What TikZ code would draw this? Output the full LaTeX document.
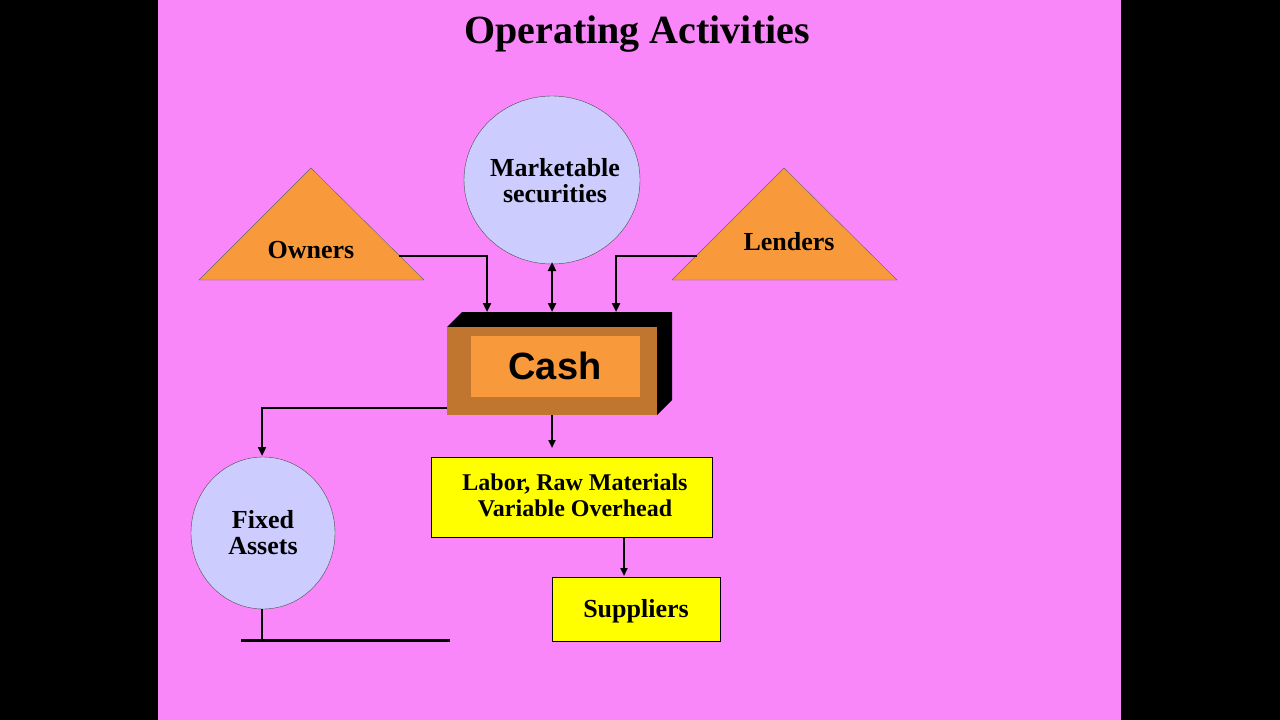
\documentclass[tikz,border=0pt]{standalone}
\usepackage{fontspec}
\setmainfont{Liberation Serif}
\newfontfamily\sansf{Liberation Sans}
\usetikzlibrary{arrows.meta,shapes.geometric}
\definecolor{bg}{HTML}{F987FA}
\definecolor{org}{HTML}{F89A3C}
\definecolor{lav}{HTML}{CCCCFF}
\definecolor{brn}{HTML}{C0762E}
\definecolor{yel}{HTML}{FFFF00}
\tikzset{conn/.style={line width=2.5pt,-{Triangle[length=9pt,width=8pt]}},
lbl/.style={font=\bfseries\fontsize{26}{30}\selectfont,align=center},
circ/.style={draw=black!70,fill=lav,ellipse},
ybox/.style={draw=black,fill=yel,line width=0.6pt}}
\begin{document}
\begin{tikzpicture}[x=1pt,y=-1pt]
\useasboundingbox (0,0) rectangle (1280,720);
\fill[black] (0,0) rectangle (1280,720);
\fill[bg] (158,0) rectangle (1121,720);
\node[font=\bfseries\fontsize{40}{46}\selectfont] (title) at (637,34) {Operating Activities};
% triangles
\draw[fill=org,draw=black!60] (199,280) -- (424,280) -- (311,168) -- cycle;
\node[lbl] (own) at (311,250) {Owners};
\draw[fill=org,draw=black!60] (672,280) -- (897,280) -- (784,168) -- cycle;
\node[lbl] (lend) at (789,242) {Lenders};
% circles
\node[circ,minimum width=176pt,minimum height=168pt,inner sep=0pt] (ms) at (552,180) {};
\node[lbl] at (555,181) {Marketable\\[-4pt]securities};
\node[circ,minimum width=144pt,minimum height=152pt,inner sep=0pt] (fa) at (263,533) {};
\node[lbl] at (263,533) {Fixed\\[-4pt]Assets};
% cash box
\fill[black] (447,327) -- (462,312) -- (672,312) -- (672,400) -- (657,415) -- (657,327) -- cycle;
\fill[brn] (447,327) rectangle (657,415);
\fill[org] (471,336) rectangle (640,397);
\node[font=\sansf\bfseries\fontsize{38}{44}\selectfont] (cash) at (555,366) {Cash};
% boxes
\draw[ybox] (431,457) rectangle (712,537);
\node[lbl,font=\bfseries\fontsize{24}{28}\selectfont] (labor) at (575,495) {Labor, Raw Materials\\[-2pt]Variable Overhead};
\draw[ybox] (552,577) rectangle (720,641);
\node[lbl] (sup) at (636,611) {Suppliers};
% connectors
\coordinate (o1) at (399,256); \coordinate (o2) at (487,256); \coordinate (o3) at (487,312);
\draw[conn] (o1) -- (o2) -- (o3);
\coordinate (l1) at (697,256); \coordinate (l2) at (616,256); \coordinate (l3) at (616,312);
\draw[conn] (l1) -- (l2) -- (l3);
\coordinate (m1) at (552,262); \coordinate (m2) at (552,312);
\draw[conn,{Triangle[length=9pt,width=8pt]}-{Triangle[length=9pt,width=8pt]}] (m1) -- (m2);
\coordinate (c1) at (447,408); \coordinate (c2) at (262,408); \coordinate (c3) at (262,456);
\draw[conn] (c1) -- (c2) -- (c3);
\coordinate (b1) at (552,415); \coordinate (b2) at (552,448);
\draw[line width=2pt,-{Triangle[length=8pt,width=7pt]}] (b1) -- (b2);
\coordinate (s1) at (624,537); \coordinate (s2) at (624,576);
\draw[line width=2pt,-{Triangle[length=8pt,width=7pt]}] (s1) -- (s2);
\coordinate (f1) at (262,609); \coordinate (f2) at (262,640);
\coordinate (h1) at (241,640); \coordinate (h2) at (450,640);
\draw[line width=2.5pt] (f1) -- (f2);
\draw[line width=3pt] (h1) -- (h2);
\end{tikzpicture}
\end{document}
